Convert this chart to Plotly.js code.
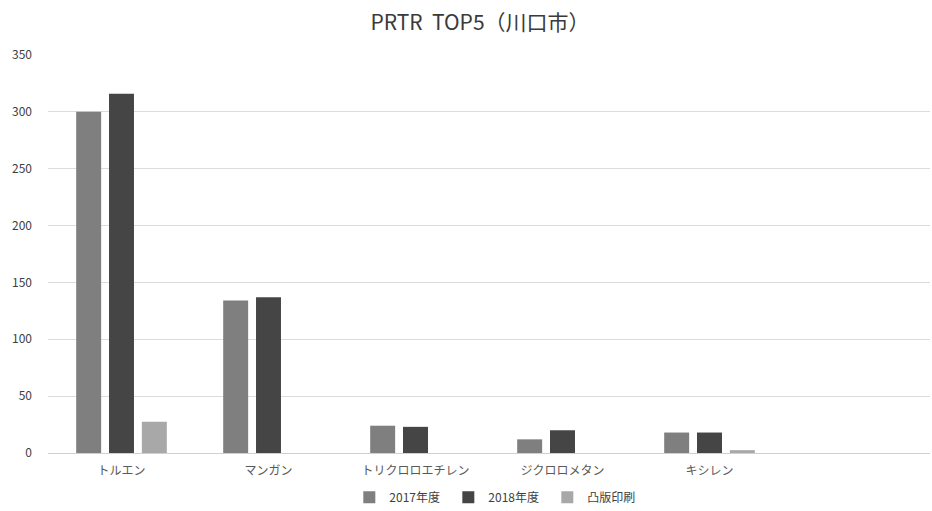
<!DOCTYPE html>
<html>
<head>
<meta charset="utf-8">
<script src="https://cdn.plot.ly/plotly-3.0.1.min.js"></script>
<style>html,body{margin:0;padding:0;background:#fff;}#chart{width:932px;height:511px;}</style>
</head>
<body>
<div id="chart"></div>
<script>
const categories = ["トルエン", "マンガン", "トリクロロエチレン", "ジクロロメタン", "キシレン"];
const seriesNames = ["2017年度", "2018年度", "凸版印刷"];
const values2017 = [300, 134, 24, 12, 18];
const values2018 = [316, 137, 23, 20, 18];
const valuesToppan = [27.5, null, null, null, 2.5];
const yTicks = [0, 50, 100, 150, 200, 250, 300, 350];

const colors = ["#7f7f7f", "#454545", "#a8a8a8"];
const font = "'Noto Sans CJK JP', 'Noto Sans', sans-serif";

const data = [values2017, values2018, valuesToppan].map((v, i) => ({
  type: "bar",
  name: seriesNames[i],
  x: categories,
  y: v,
  marker: {color: colors[i]},
  hoverinfo: "x+y+name"
}));

const layout = {
  width: 932, height: 511,
  margin: {l: 48, r: 2, t: 55, b: 58},
  paper_bgcolor: "#fff", plot_bgcolor: "#fff",
  title: {text: "PRTR  TOP5（川口市）", x: 0.515, xanchor: "center", y: 0.955, yanchor: "middle",
          font: {family: font, size: 21, color: "#3a3a3a"}},
  barmode: "group",
  bargap: 0.33,
  bargroupgap: 0.24,
  xaxis: {
    type: "category",
    range: [-0.5, 5.5],
    showgrid: false,
    showline: false,
    ticks: "outside",
    ticklen: 7,
    tickcolor: "rgba(0,0,0,0)",
    tickfont: {family: font, size: 12, color: "#595959"},
    fixedrange: true
  },
  yaxis: {
    range: [0, 350],
    tickvals: yTicks,
    ticktext: yTicks.map(String),
    showgrid: true,
    gridcolor: "#dcdcdc",
    zeroline: true,
    zerolinecolor: "#d0d0d0",
    showline: false,
    ticks: "",
    ticklabelstandoff: 15,
    tickfont: {family: font, size: 12, color: "#404040"},
    fixedrange: true
  },
  showlegend: true,
  legend: {
    orientation: "h",
    x: 0.51, xanchor: "center",
    yref: "container",
    y: 0.027, yanchor: "middle",
    font: {family: font, size: 12, color: "#404040"},
    itemwidth: 30,
    entrywidth: 54,
    traceorder: "normal"
  }
};

Plotly.newPlot("chart", data, layout, {displayModeBar: false, staticPlot: true});
</script>
</body>
</html>
